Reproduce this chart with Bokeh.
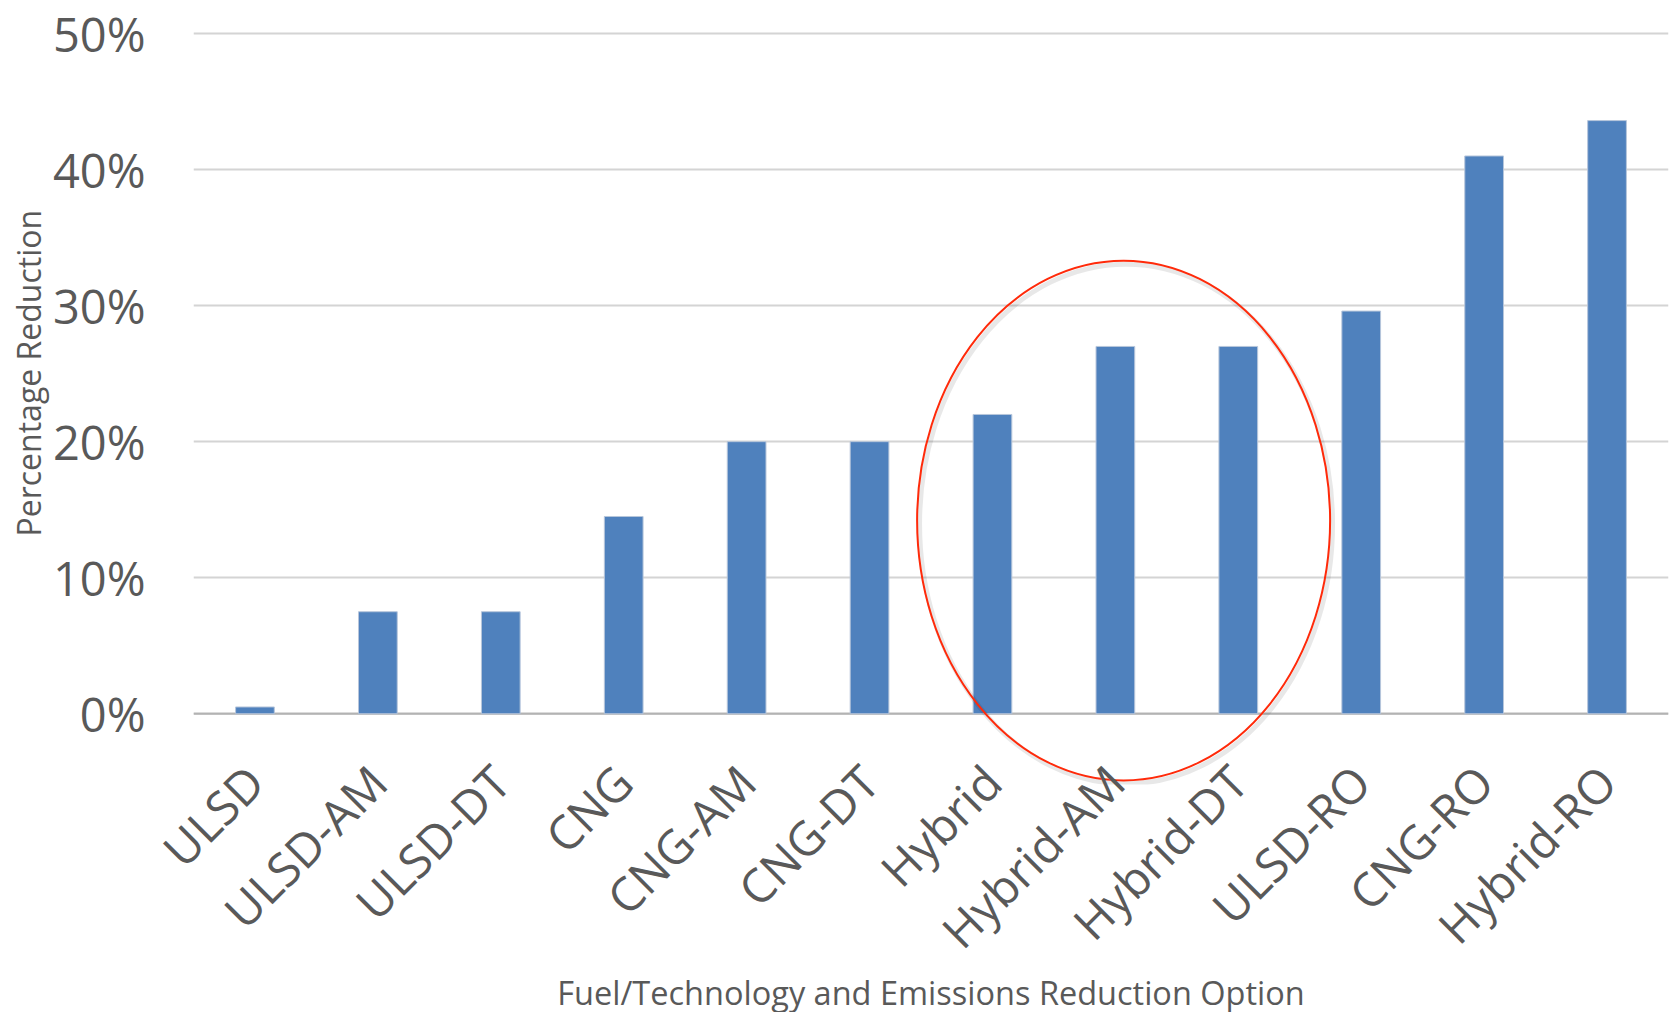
import math

from bokeh.embed import file_html
from bokeh.models import FactorRange, Range1d, Span, Title
from bokeh.plotting import figure
from bokeh.resources import INLINE

# ---- data -------------------------------------------------------------
options = [
    "ULSD", "ULSD-AM", "ULSD-DT", "CNG", "CNG-AM", "CNG-DT",
    "Hybrid", "Hybrid-AM", "Hybrid-DT", "ULSD-RO", "CNG-RO", "Hybrid-RO",
]
reduction_pct = [0.5, 7.5, 7.5, 14.5, 20.0, 20.0, 22.0, 27.0, 27.0, 29.6, 41.0, 43.6]
y_ticks = [0, 10, 20, 30, 40, 50]
y_tick_labels = ["0%", "10%", "20%", "30%", "40%", "50%"]

# ---- styling / layout constants --------------------------------------
TEXT = "#595959"
BAR = "#4F81BD"
FONT = "Open Sans"

# red ring drawn around the hybrid options (synthetic x units, % on y)
RING_X, RING_Y = 7.567, 14.2
RING_W, RING_H = 3.36, 38.2

p = figure(
    frame_width=1475, frame_height=753,
    x_range=FactorRange(*options, range_padding=0),
    y_range=Range1d(-5.2, 50.15),
    output_backend="svg", toolbar_location=None,
    min_border_left=193, min_border_right=3,
    min_border_top=31, min_border_bottom=10,
    outline_line_color=None,
)

p.vbar(x=options, top=reduction_pct, width=0.315,
       fill_color=BAR, line_color="#B7C6DB", line_width=1)

# baseline at 0 %
p.add_layout(Span(location=0, dimension="width", line_color="#B3B3B3",
                  line_width=2, level="underlay"))

# soft shadow + red ring
p.ellipse(x=[RING_X + 0.02], y=[RING_Y - 0.25], width=RING_W, height=RING_H,
          fill_color=None, line_color="#000000", line_alpha=0.09, line_width=5)
p.ellipse(x=[RING_X], y=[RING_Y], width=RING_W, height=RING_H,
          fill_color=None, line_color="#FF2A0A", line_width=2)

# grid
p.xgrid.grid_line_color = None
p.ygrid.grid_line_color = "#D4D4D4"
p.ygrid.grid_line_width = 2

# y axis
p.yaxis.ticker = y_ticks
p.yaxis.major_label_overrides = {t: s for t, s in zip(y_ticks, y_tick_labels)}
p.yaxis.axis_line_color = None
p.yaxis.major_tick_line_color = None
p.yaxis.minor_tick_line_color = None
p.yaxis.major_label_standoff = 42
p.yaxis.major_label_text_font = FONT
p.yaxis.major_label_text_font_size = "47px"
p.yaxis.major_label_text_color = TEXT

# x axis
p.xaxis.axis_line_color = None
p.xaxis.major_tick_line_color = None
p.xaxis.minor_tick_line_color = None
p.xaxis.major_label_orientation = math.pi / 4
p.xaxis.major_label_standoff = -17
p.xaxis.major_label_text_font = FONT
p.xaxis.major_label_text_font_size = "47px"
p.xaxis.major_label_text_color = TEXT
p.xaxis.axis_label = "Fuel/Technology and Emissions Reduction Option"
p.xaxis.axis_label_text_font = FONT
p.xaxis.axis_label_text_font_size = "32.5px"
p.xaxis.axis_label_text_font_style = "normal"
p.xaxis.axis_label_text_color = TEXT
p.xaxis.axis_label_standoff = -17

# y axis title, centred on the 0-50 % span
p.add_layout(Title(text="Percentage Reduction", align="left", offset=248,
                   standoff=0, text_font=FONT, text_font_size="32px",
                   text_font_style="normal", text_color=TEXT), "left")

open("out.html", "w").write(file_html(p, INLINE))
